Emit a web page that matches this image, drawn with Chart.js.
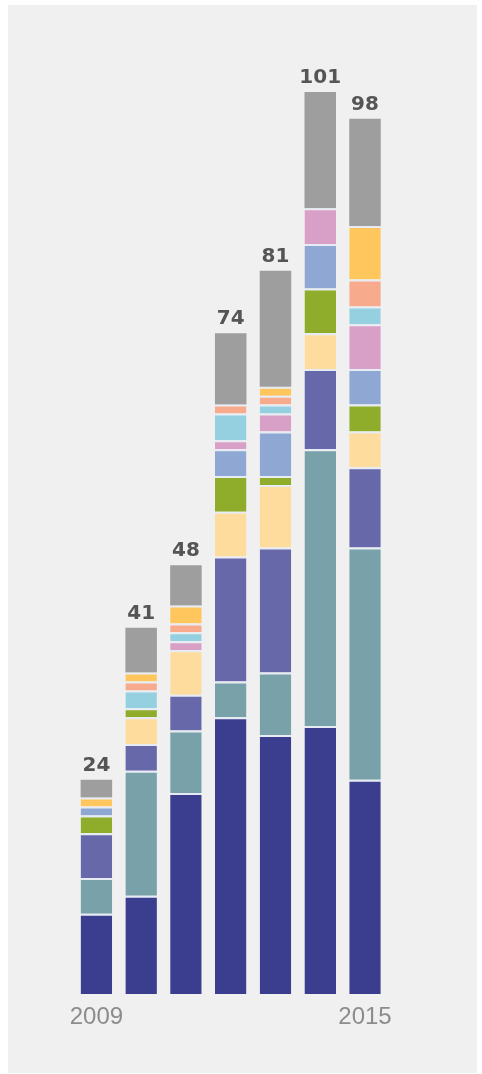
<!DOCTYPE html>
<html>
<head>
<meta charset="utf-8">
<script src="https://cdn.jsdelivr.net/npm/chart.js@4/dist/chart.umd.min.js"></script>
<style>
  html, body { margin: 0; padding: 0; background: #ffffff; }
  #wrap { width: 482px; height: 1074px; }
</style>
</head>
<body>
<div id="wrap"><canvas id="c" width="482" height="1074"></canvas></div>
<script>
// Years on the category axis; only the first and last are labelled.
const years = ['2009', '2010', '2011', '2012', '2013', '2014', '2015'];
const shownYears = ['2009', '2015'];

// Stacked segments, bottom to top.
const navy       = [9, 11, 22.5, 31, 29, 30, 24];
const teal       = [4, 14, 7, 4, 7, 31, 26];
const violet     = [5, 3, 4, 14, 14, 9, 9];
const peach      = [0, 3, 5, 5, 7, 4, 4];
const olive      = [2, 1, 0, 4, 1, 5, 3];
const periwinkle = [1, 0, 0, 3, 5, 5, 4];
const pink       = [0, 0, 1, 1, 2, 4, 5];
const sky        = [0, 2, 1, 3, 1, 0, 2];
const salmon     = [0, 1, 1, 1, 1, 0, 3];
const amber      = [1, 1, 2, 0, 1, 0, 6];
const grey       = [2, 5, 4.5, 8, 13, 13, 12];

const stack = [
  { data: navy,       color: '#3b3e8f' },
  { data: teal,       color: '#78a1aa' },
  { data: violet,     color: '#6668a9' },
  { data: peach,      color: '#fedc9d' },
  { data: olive,      color: '#8fac2b' },
  { data: periwinkle, color: '#8ea7d3' },
  { data: pink,       color: '#d8a0c6' },
  { data: sky,        color: '#95d0e0' },
  { data: salmon,     color: '#f8aa8c' },
  { data: amber,      color: '#fec65c' },
  { data: grey,       color: '#9e9e9e' }
];

const totals = years.map((_, i) => stack.reduce((s, d) => s + d.data[i], 0));

const datasets = stack.map((s, k) => ({
  data: s.data,
  backgroundColor: s.color,
  borderColor: '#e6ebf4',
  borderWidth: k === stack.length - 1 ? 0 : { top: 2, left: 0, right: 0, bottom: 0 },
  borderSkipped: false,
  categoryPercentage: 1,
  barPercentage: 0.704
}));

// Grey panel with a thin white frame around it.
const panel = {
  id: 'panel',
  beforeDraw(chart) {
    const ctx = chart.ctx;
    ctx.save();
    ctx.fillStyle = '#ffffff';
    ctx.fillRect(0, 0, chart.width, chart.height);
    ctx.fillStyle = '#f0f0f0';
    ctx.fillRect(8, 5, 469, 1068);
    ctx.restore();
  }
};

// Total above every column.
const totalLabels = {
  id: 'totalLabels',
  afterDatasetsDraw(chart) {
    const ctx = chart.ctx;
    const xs = chart.scales.x, ys = chart.scales.y;
    ctx.save();
    ctx.font = 'bold 20px "DejaVu Sans"';
    ctx.fillStyle = '#555555';
    ctx.textAlign = 'center';
    ctx.textBaseline = 'alphabetic';
    totals.forEach((t, i) => {
      ctx.fillText(String(Math.round(t)), xs.getPixelForValue(i), ys.getPixelForValue(t) - 9);
    });
    ctx.restore();
  }
};

new Chart(document.getElementById('c'), {
  type: 'bar',
  data: { labels: years, datasets },
  options: {
    responsive: false,
    animation: false,
    events: [],
    layout: { padding: { left: 74, right: 94.6, top: 11.7, bottom: 33.2 } },
    plugins: { legend: { display: false }, tooltip: { enabled: false } },
    scales: {
      x: {
        stacked: true,
        grid: { display: false, drawTicks: false },
        border: { display: false },
        ticks: {
          autoSkip: false,
          maxRotation: 0,
          padding: 9,
          color: '#8c8c8c',
          font: { family: '"Liberation Sans"', size: 24, lineHeight: 1.2 },
          callback: (v, i) => shownYears.includes(years[i]) ? years[i] : ''
        }
      },
      y: {
        stacked: true,
        display: false,
        min: 0,
        max: 110
      }
    }
  },
  plugins: [panel, totalLabels]
});
</script>
</body>
</html>
